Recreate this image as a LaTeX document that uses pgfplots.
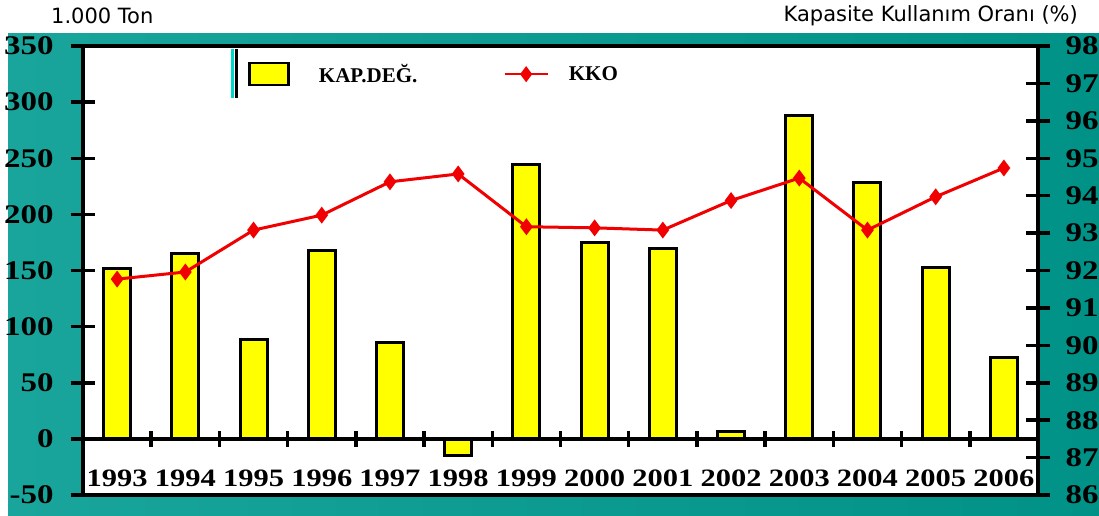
\documentclass[border=0pt]{standalone}
\usepackage{pgfplots}
\pgfplotsset{compat=1.18}
\usepackage{fontspec}
\setmainfont{Liberation Serif}
\newfontfamily\labelfont{DejaVu Sans}
\newfontfamily\wideserif[FakeStretch=1.22]{Liberation Serif}
\definecolor{tealL}{RGB}{25,165,155}
\definecolor{tealM}{RGB}{0,215,200}
\definecolor{tealR}{RGB}{0,145,135}
\definecolor{baryellow}{RGB}{255,255,0}
\definecolor{kkored}{RGB}{240,0,0}
\begin{document}
\begin{tikzpicture}[x=1pt,y=1pt]
\path[use as bounding box, fill=white] (0,0) rectangle (1099,515);
\shade[left color=tealL, middle color=tealM, right color=tealR] (8,0) rectangle (1099,481);
\node[anchor=west, inner sep=0pt, font=\labelfont\fontsize{21}{21}\selectfont] at (51,499) {1.000 Ton};
\node[anchor=east, inner sep=0pt, font=\labelfont\fontsize{21}{21}\selectfont] at (1078,499) {Kapasite Kullanım Oranı (\%)};

\begin{axis}[
  at={(83pt,20pt)}, anchor=south west,
  width=955pt, height=449pt, scale only axis,
  xmin=-0.5, xmax=13.5, ymin=-50, ymax=350,
  axis background/.style={fill=white},
  axis line style={line width=3.5pt, black},
  tick align=center,
  major tick length=24pt,
  major tick style={line width=3.5pt, black},
  ytick={-50,0,50,100,150,200,250,300,350},
  ytick pos=left,
  /pgf/number format/assume math mode=true,
  yticklabel style={font=\wideserif\bfseries\fontsize{27}{27}\selectfont, xshift=-14pt},
  xtick={0,...,13},
  xticklabels={1993,1994,1995,1996,1997,1998,1999,2000,2001,2002,2003,2004,2005,2006},
  xtick style={draw=none},
  xtick pos=left,
  xticklabel style={font=\wideserif\bfseries\fontsize{25}{25}\selectfont, anchor=center, yshift=29pt},
  legend columns=2,
  legend style={at={(0.1613,0.994)}, anchor=north west, draw=none, fill=white,
    inner xsep=11pt, inner ysep=13pt,
    font=\bfseries\fontsize{21}{21}\selectfont,
    /tikz/every odd column/.append style={column sep=18pt},
    /tikz/every even column/.append style={column sep=84pt}},
]
\addplot[ybar, bar width=27pt, fill=baryellow, draw=black, line width=3pt,
  legend image code/.code={\draw[fill=baryellow, draw=black, line width=2.5pt] (0pt,-11pt) rectangle (39pt,11pt); \path (48pt,0pt);}]
  coordinates {(0,151.5) (1,165) (2,88.7) (3,168) (4,85.7) (5,-15) (6,244)
               (7,175) (8,170) (9,7) (10,288) (11,228) (12,152.7) (13,72.3)};
\addlegendentry{KAP.DEĞ.}
\addlegendimage{kkored, line width=3pt,
  legend image code/.code={\draw[kkored, line width=2.5pt, mark=diamond*, mark size=6pt, mark options={fill=kkored}, mark repeat=2, mark phase=2] plot coordinates {(0pt,0pt) (21.5pt,0pt) (43pt,0pt)};}}
\addlegendentry{KKO}
\draw[line width=3.5pt, black] (axis cs:-0.5,0) -- (axis cs:13.5,0);
\draw[line width=3.5pt, black] (axis cs:0.5,-7) -- (axis cs:0.5,7);
\draw[line width=3.5pt, black] (axis cs:1.5,-7) -- (axis cs:1.5,7);
\draw[line width=3.5pt, black] (axis cs:2.5,-7) -- (axis cs:2.5,7);
\draw[line width=3.5pt, black] (axis cs:3.5,-7) -- (axis cs:3.5,7);
\draw[line width=3.5pt, black] (axis cs:4.5,-7) -- (axis cs:4.5,7);
\draw[line width=3.5pt, black] (axis cs:5.5,-7) -- (axis cs:5.5,7);
\draw[line width=3.5pt, black] (axis cs:6.5,-7) -- (axis cs:6.5,7);
\draw[line width=3.5pt, black] (axis cs:7.5,-7) -- (axis cs:7.5,7);
\draw[line width=3.5pt, black] (axis cs:8.5,-7) -- (axis cs:8.5,7);
\draw[line width=3.5pt, black] (axis cs:9.5,-7) -- (axis cs:9.5,7);
\draw[line width=3.5pt, black] (axis cs:10.5,-7) -- (axis cs:10.5,7);
\draw[line width=3.5pt, black] (axis cs:11.5,-7) -- (axis cs:11.5,7);
\draw[line width=3.5pt, black] (axis cs:12.5,-7) -- (axis cs:12.5,7);
\end{axis}

\begin{axis}[
  at={(83pt,20pt)}, anchor=south west,
  width=955pt, height=449pt, scale only axis,
  xmin=-0.5, xmax=13.5, ymin=86, ymax=98,
  axis x line=none,
  axis y line*=right,
  axis line style={line width=3.5pt, black, -},
  tick align=center,
  major tick length=24pt,
  major tick style={line width=3.5pt, black},
  ytick={86,87,...,98},
  /pgf/number format/assume math mode=true,
  yticklabel style={font=\wideserif\bfseries\fontsize{27}{27}\selectfont, xshift=12pt},
]
\addplot[kkored, line width=3pt, mark=diamond*, mark size=6pt, mark options={fill=kkored}]
  coordinates {(0,91.77) (1,91.96) (2,93.08) (3,93.48) (4,94.37) (5,94.58) (6,93.17)
               (7,93.14) (8,93.08) (9,93.87) (10,94.47) (11,93.08) (12,93.97) (13,94.74)};
\end{axis}
\draw[line width=3pt, tealM] (232,466) -- (232,417);
\draw[line width=3pt, black] (236.5,466) -- (236.5,417);
\end{tikzpicture}
\end{document}
